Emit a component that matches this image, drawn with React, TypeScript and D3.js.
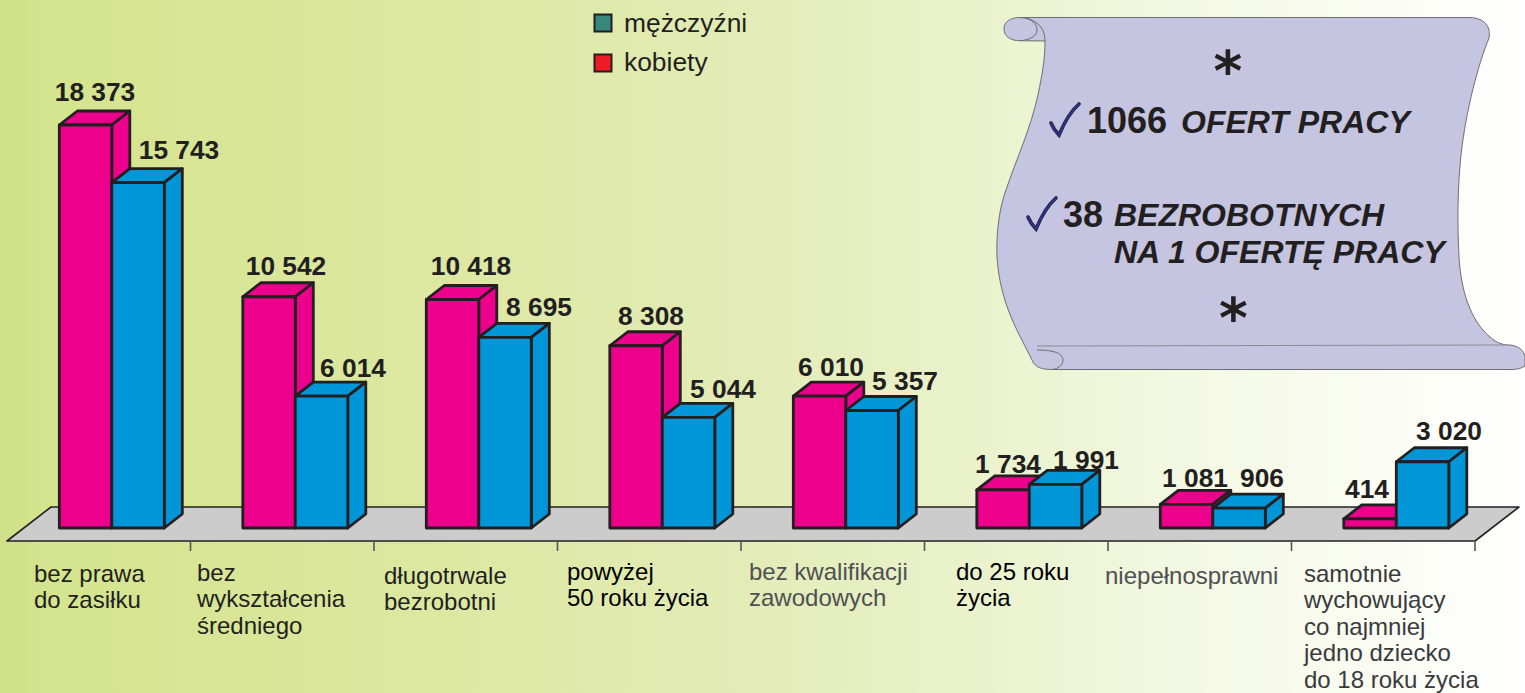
import * as d3 from 'd3';

const WIDTH = 1525;
const HEIGHT = 693;

const categories = [
  'bez prawa do zasiłku',
  'bez wykształcenia średniego',
  'długotrwale bezrobotni',
  'powyżej 50 roku życia',
  'bez kwalifikacji zawodowych',
  'do 25 roku życia',
  'niepełnosprawni',
  'samotnie wychowujący co najmniej jedno dziecko do 18 roku życia',
];
const categoryLines = [
  ['bez prawa', 'do zasiłku'],
  ['bez', 'wykształcenia', 'średniego'],
  ['długotrwale', 'bezrobotni'],
  ['powyżej', '50 roku życia'],
  ['bez kwalifikacji', 'zawodowych'],
  ['do 25 roku', 'życia'],
  ['niepełnosprawni'],
  ['samotnie', 'wychowujący', 'co najmniej', 'jedno dziecko', 'do 18 roku życia'],
];
const women = [18373, 10542, 10418, 8308, 6010, 1734, 1081, 414];
const men = [15743, 6014, 8695, 5044, 5357, 1991, 906, 3020];

// hand placed in the original, so they are tuned per category
const labelX = [34, 197, 384, 567, 749, 956, 1105, 1304];
const labelY = [582, 581, 584, 580, 580, 580, 584, 582];
const labelColor = ['#231f20', '#231f20', '#231f20', '#000', '#4f5054', '#000', '#4f5054', '#3a3a3c'];
const womenLabelX = [95, 286, 471, 651, 831, 1008, 1195, 1367];
const womenLabelY = [101, 275, 275, 325, 376, 473, 487, 498];
const menLabelX = [179, 353, 539, 723, 905, 1086, 1262, 1449];
const menLabelY = [159, 377, 316, 398, 390, 469, 487, 440];

const FONT = '"Liberation Sans", Arial, sans-serif';
const INK = '#231f20';
const PINK = '#ec008c';
const BLUE = '#0096d8';
const DEPTH_X = 18;
const DEPTH_Y = 14;
const BASE_Y = 528;

const x = d3.scaleBand<string>().domain(categories).range([7, 1475]);
const y = d3.scaleLinear().domain([0, 18373]).range([BASE_Y, 125]);
const barW = 52.5;
const barOffset = 52.3;

const fmt = (v: number) => d3.format(',')(v).replace(',', ' ');

function Bar({ left, value, fill }: { left: number; value: number; fill: string }) {
  const top = y(value);
  const right = left + barW;
  const stroke = { stroke: INK, strokeWidth: 2.8, strokeLinejoin: 'round' as const };
  return (
    <g fill={fill} {...stroke}>
      <polygon points={`${left},${top} ${left + DEPTH_X},${top - DEPTH_Y} ${right + DEPTH_X},${top - DEPTH_Y} ${right},${top}`} />
      <polygon points={`${right},${top} ${right + DEPTH_X},${top - DEPTH_Y} ${right + DEPTH_X},${BASE_Y - DEPTH_Y} ${right},${BASE_Y}`} />
      <rect x={left} y={top} width={barW} height={BASE_Y - top} />
    </g>
  );
}

const scrollPath =
  'M1020,17.5 L1470,17.5 C1484,18 1491,26 1489,38 C1478,65 1466,110 1461,155 C1458,185 1457,215 1459,257 ' +
  'C1461,290 1470,320 1490,337 C1497,343 1502,345 1510,345 C1518,346 1525,350 1525,358 L1525,366 C1520,369 1516,369.5 1510,369.5 L1052,369.5 ' +
  'C1043,369.5 1035,368 1032,360 C1020,335 1000,305 997,257 C996,230 1000,205 1007,187 ' +
  'C1018,155 1030,130 1038,95 C1042,75 1045,60 1045,41 L1020,40.7 C1010,40.7 1004,36 1004,29 C1004,22 1010,17.5 1020,17.5 Z';

const checkPath = 'M1,20 C3,25 6,29 9,32 C14,20 20,9 29,1';

function Check({ ox, oy }: { ox: number; oy: number }) {
  return (
    <g transform={`translate(${ox},${oy})`} fill="none" strokeLinecap="round">
      <path d={checkPath} stroke={INK} strokeWidth={3.6} />
      <path d={checkPath} stroke="#2e3192" strokeWidth={2.2} />
    </g>
  );
}

export default function App() {
  const step = x.step();
  const ticks = categories.map((c) => (x(c) as number) + step);
  return (
    <svg
      width={WIDTH}
      height={HEIGHT}
      viewBox={`0 0 ${WIDTH} ${HEIGHT}`}
      style={{ position: 'fixed', left: 0, top: 0, display: 'block' }}
      fontFamily={FONT}
    >
      <defs>
        <linearGradient id="bg" x1="0" x2="1" y1="0" y2="0">
          <stop offset="0" stopColor="#cfe088" />
          <stop offset="0.03" stopColor="#d5e48e" />
          <stop offset="0.25" stopColor="#dbe79e" />
          <stop offset="0.5" stopColor="#e3ecb7" />
          <stop offset="0.66" stopColor="#ebf3cf" />
          <stop offset="0.8" stopColor="#f5f9e6" />
          <stop offset="1" stopColor="#ffffff" />
        </linearGradient>
      </defs>
      <rect width={WIDTH} height={HEIGHT} fill="url(#bg)" />

      {/* legend */}
      <g stroke={INK} strokeWidth={2}>
        <rect x={594.5} y={14.5} width={17} height={17} fill="#37877a" />
        <rect x={594.5} y={54.5} width={17} height={17} fill="#ed1c24" />
      </g>
      <g fontSize={26.4} fill={INK}>
        <text x={624} y={32}>mężczyźni</text>
        <text x={624} y={71}>kobiety</text>
      </g>

      {/* floor and axis */}
      <polygon points="7,541 1475,541 1519,507 51,507" fill="#cccccc" stroke={INK} strokeWidth={1.6} strokeLinejoin="round" />
      {ticks.map((t) => (
        <line key={t} x1={t} x2={t} y1={541} y2={551} stroke="#55565a" strokeWidth={1.6} />
      ))}

      {/* bars */}
      {categories.map((c, i) => {
        const left = (x(c) as number) + barOffset;
        return (
          <g key={c}>
            <Bar left={left} value={women[i]} fill={PINK} />
            <Bar left={left + barW} value={men[i]} fill={BLUE} />
          </g>
        );
      })}

      {/* value labels */}
      <g fontSize={26.3} fontWeight={700} fill={INK} textAnchor="middle">
        {categories.map((c, i) => (
          <g key={c}>
            <text x={womenLabelX[i]} y={womenLabelY[i]}>{fmt(women[i])}</text>
            <text x={menLabelX[i]} y={menLabelY[i]}>{fmt(men[i])}</text>
          </g>
        ))}
      </g>

      {/* category labels */}
      <g fontSize={24}>
        {categoryLines.map((lines, i) => (
          <text key={i} x={labelX[i]} y={labelY[i]} fill={labelColor[i]}>
            {lines.map((l, j) => (
              <tspan key={l} x={labelX[i]} dy={j === 0 ? 0 : 26.4}>{l}</tspan>
            ))}
          </text>
        ))}
      </g>

      {/* scroll */}
      <path d={scrollPath} fill="#c5c4e1" stroke="#6d6e71" strokeWidth={1} />
      <path d="M1020,17.5 C1032,18 1037,24 1037,30 C1037,36 1030,40 1020,40.7" fill="none" stroke="#6d6e71" strokeWidth={1} />
      <path d="M1026,18 C1040,22 1045,30 1045,41" fill="none" stroke="#6d6e71" strokeWidth={1} />
      <path d="M1037,350 C1050,350 1063,352 1063,360 C1063,365 1058,369 1052,369.5" fill="none" stroke="#6d6e71" strokeWidth={1} />
      <line x1={1037} x2={1505} y1={346} y2={345} stroke="#8a8aa0" strokeWidth={1.2} />

      <Check ox={1050} oy={103} />
      <Check ox={1027} oy={197} />
      <g fill={INK} fontWeight={700}>
        <text x={1228} y={90} fontSize={55} textAnchor="middle" fontFamily='"DejaVu Sans", sans-serif'>*</text>
        <text x={1233.5} y={337} fontSize={55} textAnchor="middle" fontFamily='"DejaVu Sans", sans-serif'>*</text>
        <text x={1087} y={133} fontSize={36}>1066</text>
        <text x={1063} y={227} fontSize={36}>38</text>
        <g fontStyle="italic" fontSize={32}>
          <text x={1181} y={133}>OFERT PRACY</text>
          <text x={1114} y={226}>BEZROBOTNYCH</text>
          <text x={1114} y={263}>NA 1 OFERTĘ PRACY</text>
        </g>
      </g>
    </svg>
  );
}
